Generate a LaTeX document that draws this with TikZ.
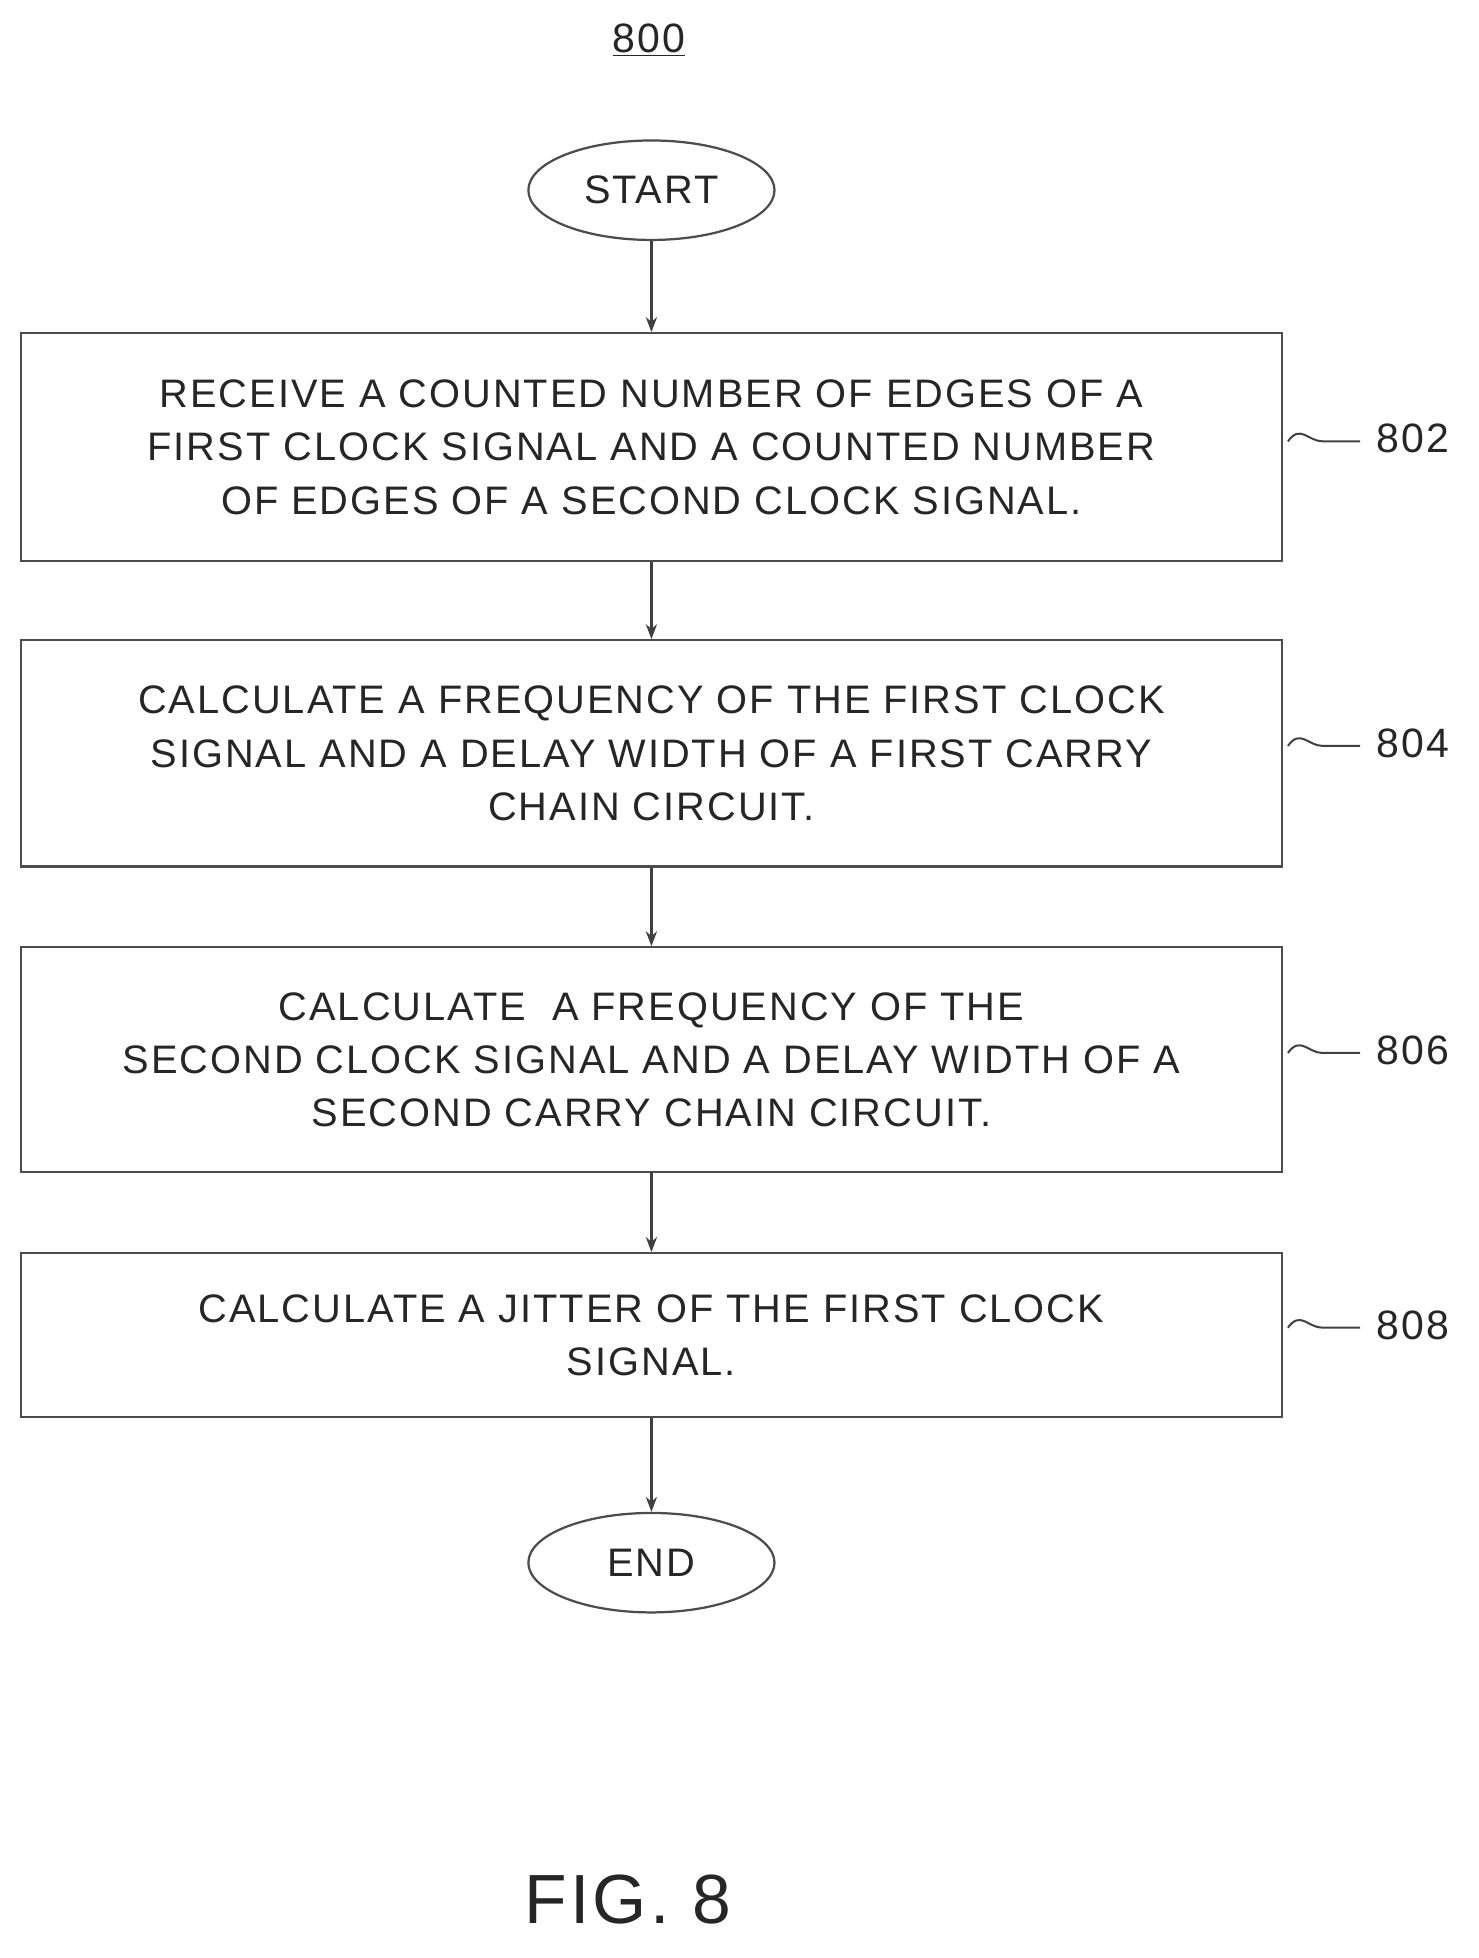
\documentclass[tikz,border=0pt]{standalone}
\usepackage{fontspec}
\setmainfont{Liberation Sans}
\newfontfamily\spaced[LetterSpace=5]{Liberation Sans}
\usetikzlibrary{shapes.geometric,arrows.meta}
\begin{document}
\begin{tikzpicture}[x=1pt,y=-1pt,
 txt/.style={font=\spaced\fontsize{32}{43}\selectfont, text=black!85, align=center},
 box/.style={draw=black!70, line width=1.8pt, txt},
 term/.style={draw=black!70, line width=1.8pt, ellipse, minimum width=198pt, minimum height=80pt, inner sep=0pt, txt},
 arr/.style={draw=black!75, line width=1.8pt, -{Stealth[length=12pt,width=9pt]}},
 sq/.style={draw=black!75, line width=1.6pt},
 lab/.style={font=\spaced\fontsize{33}{36}\selectfont, text=black!85}]
\useasboundingbox (0,0) rectangle (1189,1575);
\node[lab] (n800) at (522,32) {\underline{800}};
\node[term] (start) at (524,153) {START};
\node[box, minimum width=1014pt, minimum height=183pt] (b802) at (524,359.5) {RECEIVE A COUNTED NUMBER OF EDGES OF A\\FIRST CLOCK SIGNAL AND A COUNTED NUMBER\\OF EDGES OF A SECOND CLOCK SIGNAL.};
\node[box, minimum width=1014pt, minimum height=182pt] (b804) at (524,606) {CALCULATE A FREQUENCY OF THE FIRST CLOCK\\SIGNAL AND A DELAY WIDTH OF A FIRST CARRY\\CHAIN CIRCUIT.};
\node[box, minimum width=1014pt, minimum height=181pt] (b806) at (524,852.5) {CALCULATE \ A FREQUENCY OF THE\\SECOND CLOCK SIGNAL AND A DELAY WIDTH OF A\\SECOND CARRY CHAIN CIRCUIT.};
\node[box, minimum width=1014pt, minimum height=132pt] (b808) at (524,1074) {CALCULATE A JITTER OF THE FIRST CLOCK\\SIGNAL.};
\node[term] (end) at (524,1257) {END};
\draw[arr] (start) -- (b802);
\draw[arr] (b802) -- (b804);
\draw[arr] (b804) -- (b806);
\draw[arr] (b806) -- (b808);
\draw[arr] (b808) -- (end);
\foreach \n/\y in {802/355,804/600,806/847,808/1068}{
 \coordinate (s\n) at (1036,\y);
 \draw[sq] (s\n) .. controls +(10,-14) and +(-12,0) .. ++(28,0) .. controls +(12,0) and +(-10,0) .. ++(30,0);
 \node[lab, anchor=west] (l\n) at (1104,\y-2) {\n};
}
\node[font=\spaced\fontsize{56}{60}\selectfont, text=black!85] (fig) at (505,1528) {FIG. 8};
\end{tikzpicture}
\end{document}
